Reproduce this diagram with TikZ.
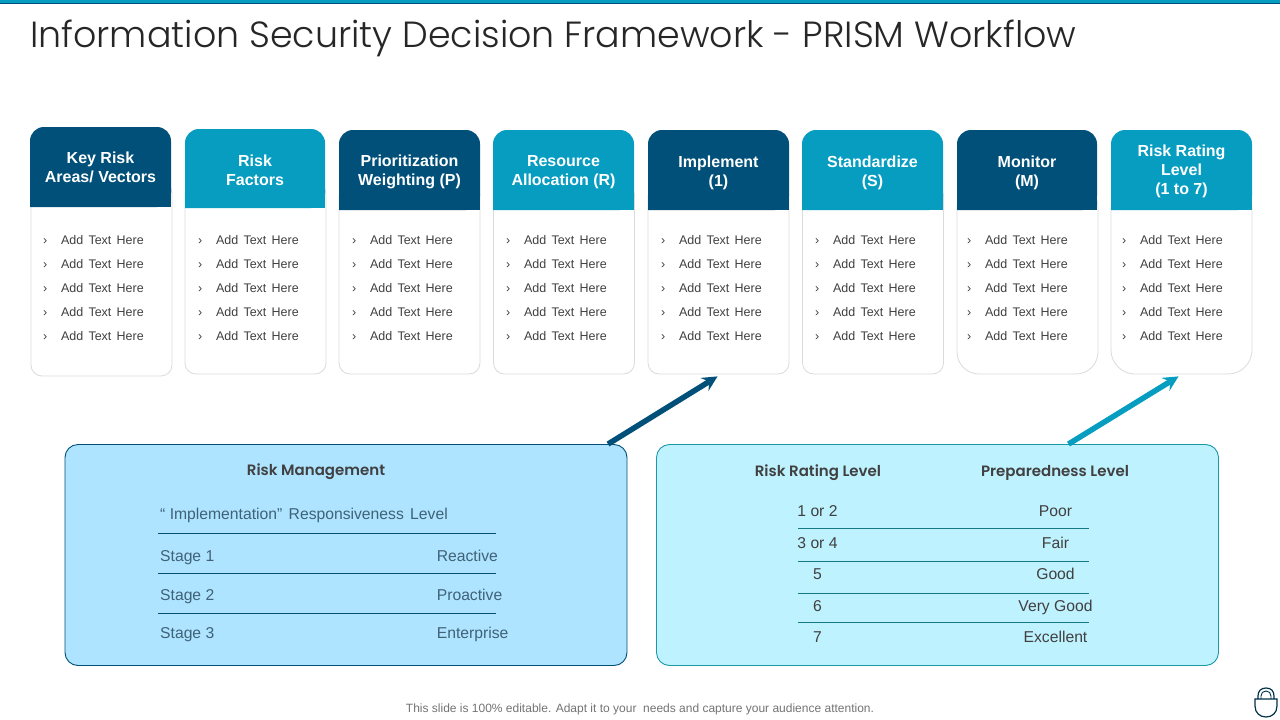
\documentclass[tikz,border=0pt]{standalone}
\usepackage{fontspec}
\setmainfont{Liberation Sans}
\newfontfamily\titlefont{Poppins Light}
\newfontfamily\headfont{Poppins SemiBold}
\newfontfamily\listfont[WordSpace=1.5]{Liberation Sans}
\usepackage{tikz}
\usetikzlibrary{matrix,calc}

\definecolor{deepblue}{HTML}{01507A}
\definecolor{seablue}{HTML}{069DC1}
\definecolor{paleblue}{HTML}{AEE4FF}
\definecolor{palecyan}{HTML}{BFF2FF}
\definecolor{edgecyan}{HTML}{1A98A8}
\definecolor{bodygrey}{HTML}{404040}
\definecolor{slate}{HTML}{3F6278}

\tikzset{
  bodybox/.style = {draw = black!14, fill = white, line width = 0.8pt, minimum width = 141pt, inner sep = 0pt},
  headlabel/.style = {text = white, align = center, font = \fontsize{16}{19}\selectfont\bfseries, inner sep = 0pt},
  rowlist/.style = {matrix of nodes, anchor = north west, row sep = 12pt, column sep = 13.7pt, inner sep = 0pt, ampersand replacement = \&,
    nodes = {anchor = base west, inner sep = 0pt, text height = 9pt, text depth = 3pt, text = bodygrey, font = \listfont\fontsize{12.5}{14}\selectfont}},
  tabletext/.style = {font = \fontsize{15.7}{19}\selectfont, inner sep = 0pt, text height = 11.5pt, text depth = 3.5pt},
  tablehead/.style = {font = \headfont\fontsize{15}{18}\selectfont, text = bodygrey, inner sep = 0pt},
  flowline/.style = {line width = 5.5pt, -stealth}
}

\begin{document}
\begin{tikzpicture}[x = 1pt, y = -1pt]
  \useasboundingbox (0,0) rectangle (1280,720);

  \fill[seablue] (0,0) rectangle (1280,3);
  \fill[deepblue] (0,3) rectangle (1280,4.2);

  \node (title) [anchor = west, inner sep = 0pt, text = black!85, font = \titlefont\fontsize{36.4}{40}\selectfont]
    at (30,38.5) {Information Security Decision Framework - PRISM Workflow};

  \foreach \n/\xl/\xr/\yt/\ym/\yb/\bx/\by/\bh/\rb/\lx/\cy/\fc/\lab in {
    1/30/171/127/207/376/101.5/279/194/11/43/167.5/deepblue/{Key Risk\\Areas/ Vectors},
    2/185/325/129/208/374/255.5/278.5/191/11/198/170/seablue/{Risk\\Factors},
    3/339/480/130/210/374/409.5/279.5/189/11/352/172/deepblue/{Prioritization\\Weighting (P)},
    4/493/634/130/210/374/564/279.5/189/11/506/172/seablue/{Resource\\Allocation (R)},
    5/648/789/130/210/374/718.5/279.5/189/11/661/173/deepblue/{Implement\\(1)},
    6/802/943/130/210/374/873/279.5/189/11/815/173/seablue/{Standardize\\(S)},
    7/957/1097/130/210/374/1027.5/279.5/189/22/967/173/deepblue/{Monitor\\(M)},
    8/1111/1252/130/210/374/1181.5/279.5/189/24/1122/171.5/seablue/{Risk Rating\\Level\\(1 to 7)}}
  {
    \node (b\n) [bodybox, rounded corners = \rb pt, minimum height = \bh pt] at (\bx,\by) {};
    \fill[\fc, rounded corners = 14pt] (\xl,\ym) -- (\xl,\yt) -- (\xr,\yt) -- (\xr,\ym) [sharp corners] -- cycle;
    \fill[\fc] (\xl,\ym-20) rectangle (\xr,\ym);
    \node (h\n) [headlabel] at ({(\xl+\xr)/2},\cy) {\lab};
    \matrix (l\n) [rowlist] at (\lx,235.3)
    {
      › \& Add Text Here \\
      › \& Add Text Here \\
      › \& Add Text Here \\
      › \& Add Text Here \\
      › \& Add Text Here \\
    };
  }

  % lower panels
  \node (rm) [draw = deepblue, fill = paleblue, rounded corners = 13pt, line width = 0.9pt, minimum width = 562pt, minimum height = 221pt, inner sep = 0pt] at (346,555) {};
  \node (rr) [draw = edgecyan, fill = palecyan, rounded corners = 13pt, line width = 0.9pt, minimum width = 562pt, minimum height = 221pt, inner sep = 0pt] at (937.5,555) {};

  \draw[flowline, deepblue] ($(rm.north)+(262,0)$) -- ($(b5.south)+(-1,2)$);
  \draw[flowline, seablue] ($(rr.north)+(131,0)$) -- ($(b8.south)+(-3,2)$);

  \node (rmhead) [tablehead] at (316,471.5) {Risk Management};
  \node (rmsub) [tabletext, anchor = west, text = slate] at (160,515.5) {“ Implementation”\ \hspace{2pt}Responsiveness\ \hspace{2pt}Level};
  \matrix (rmt) [matrix of nodes, anchor = north west, row sep = 0pt, column sep = 222.5pt, inner sep = 0pt,
    nodes = {tabletext, text = slate, anchor = west, minimum height = 38.5pt}] at (160,538.5)
  {
    Stage 1 & Reactive \\
    Stage 2 & Proactive \\
    Stage 3 & Enterprise \\
  };
  \foreach \y in {533,573,613}
    \draw[deepblue, line width = 0.8pt] (158,\y) -- (496,\y);

  \node (rrhead) [tablehead] at (818,472.5) {Risk Rating Level};
  \node (prhead) [tablehead] at (1055,472.5) {Preparedness Level};
  \matrix (rrt) [matrix of nodes, row sep = 0pt, column sep = 118pt, inner sep = 0pt,
    nodes = {tabletext, text = bodygrey, minimum height = 31.5pt, minimum width = 120pt}] at (936.5,575.5)
  {
    1 or 2 & Poor \\
    3 or 4 & Fair \\
    5 & Good \\
    6 & Very Good \\
    7 & Excellent \\
  };
  \foreach \y in {528,561,593,622}
    \draw[edgecyan!80!black, line width = 0.8pt] (798,\y) -- (1089,\y);

  \node (note) [inner sep = 0pt, text = black!55, font = \fontsize{12}{14}\selectfont] at (640,709.5)
    {This slide is 100\% editable. Adapt it to your\ \ needs and capture your audience attention.};

  % lock icon
  \draw[black!40!deepblue, line width = 1.2pt] (1255,699) -- (1277,699) -- (1277,706)
    .. controls (1277,713) and (1272,717) .. (1266,717)
    .. controls (1260,717) and (1255,713) .. (1255,706) -- cycle;
  \draw[black!40!deepblue, line width = 1.2pt] (1258,699) -- (1258,696)
    .. controls (1258,691) and (1261,688) .. (1266,688)
    .. controls (1271,688) and (1274,691) .. (1274,696) -- (1274,699);
  \draw[black!40!deepblue, line width = 0.9pt] (1261,699) -- (1261,696)
    .. controls (1261,693) and (1263,691) .. (1266,691)
    .. controls (1269,691) and (1271,693) .. (1271,696) -- (1271,699);
\end{tikzpicture}
\end{document}
